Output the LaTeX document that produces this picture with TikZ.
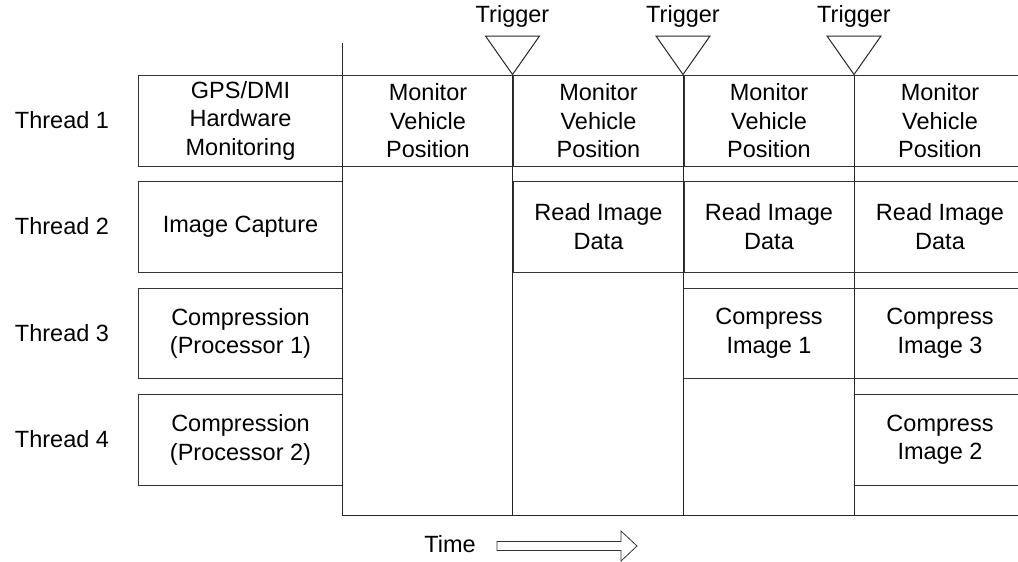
\documentclass[tikz,border=0pt]{standalone}
\usepackage{fontspec}
\setmainfont{Liberation Sans}
\begin{document}
\begin{tikzpicture}[x=1pt,y=-1pt,line width=1pt,
  txt/.style={font=\fontsize{23.5}{28.5}\selectfont,inner sep=0pt,align=center},
  cell/.style={txt,draw=black!80,anchor=north west,minimum width=171pt,minimum height=90.5pt},
  lcell/.style={txt,draw=black!80,anchor=north west,minimum width=204pt,minimum height=90.5pt},
  grid/.style={draw=black!85},
  trig/.style={draw=black!85,line join=miter}]
\useasboundingbox (0,0) rectangle (1018,562);
% left column
\node[lcell] (l1) at (138,75) {GPS/DMI\\Hardware\\Monitoring};
\node[lcell] (l2) at (138,181) {Image Capture};
\node[lcell] (l3) at (138,287.5) {Compression\\(Processor 1)};
\node[lcell] (l4) at (138,394) {Compression\\(Processor 2)};
% thread labels
\node[txt] (t1) at (62,120) {Thread 1};
\node[txt] (t2) at (62,226) {Thread 2};
\node[txt] (t3) at (62,333) {Thread 3};
\node[txt] (t4) at (62,439) {Thread 4};
% row 1
\node[cell] (a1) at (342,75) {Monitor\\Vehicle\\Position};
\node[cell] (b1) at (512.5,75) {Monitor\\Vehicle\\Position};
\node[cell] (c1) at (683,75) {Monitor\\Vehicle\\Position};
\node[cell] (d1) at (854,75) {Monitor\\Vehicle\\Position};
% row 2
\node[cell] (b2) at (512.5,181) {Read Image\\Data};
\node[cell] (c2) at (683,181) {Read Image\\Data};
\node[cell] (d2) at (854,181) {Read Image\\Data};
% row 3
\node[cell] (c3) at (683,287.5) {Compress\\Image 1};
\node[cell] (d3) at (854,287.5) {Compress\\Image 3};
% row 4
\node[cell] (d4) at (854,394) {Compress\\Image 2};
% grid lines
\coordinate (g0t) at (342,43);
\coordinate (g0b) at (342,515);
\coordinate (g1b) at (512.5,515);
\coordinate (g2b) at (683,515);
\coordinate (g3b) at (854,515);
\coordinate (gend) at (1020,515);
\draw[grid] (g0t) -- (g0b) -- (gend);
\draw[grid] (b1.north west) -- (g1b);
\draw[grid] (c1.north west) -- (g2b);
\draw[grid] (d1.north west) -- (g3b);
% triggers
\foreach \n/\x in {1/512.5,2/683,3/854}{
  \draw[trig] (\x-27,36) -- (\x,74.5) -- (\x+27,36) -- cycle;
  \node[txt] (trig\n) at (\x,16) {Trigger};
}
% time
\node[txt] (time) at (450,544) {Time};
\draw[draw=black!80,line width=0.8pt,line join=miter] (497,541.5) -- (621,541.5) -- (621,531) -- (637,546) -- (621,561) -- (621,550.5) -- (497,550.5) -- cycle;
\end{tikzpicture}
\end{document}
